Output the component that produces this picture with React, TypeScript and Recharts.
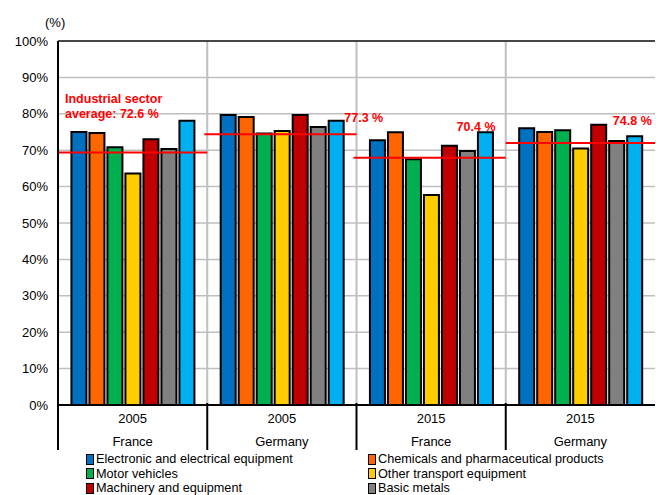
import React from 'react';
import { BarChart, Bar, XAxis, YAxis, CartesianGrid, ReferenceLine } from 'recharts';

const years = ['2005', '2005', '2015', '2015'];
const countries = ['France', 'Germany', 'France', 'Germany'];
const groupCenters = [0.5, 1.5, 2.5, 3.5];

const electronic = [75.0, 79.7, 72.7, 76.0];
const chemicals = [74.7, 79.1, 74.9, 75.0];
const motorVehicles = [70.8, 74.6, 67.5, 75.5];
const otherTransport = [63.6, 75.3, 57.7, 70.5];
const machinery = [73.0, 79.7, 71.2, 77.0];
const basicMetals = [70.3, 76.4, 69.8, 72.5];
const otherIndustries = [78.1, 78.1, 74.9, 73.8];

const seriesNames = [
  'Electronic and electrical equipment',
  'Chemicals and pharmaceutical products',
  'Motor vehicles',
  'Other transport equipment',
  'Machinery and equipment',
  'Basic metals',
  'Other industries',
];
const seriesColors = ['#0070C0', '#FF6600', '#00B050', '#FFCC00', '#C00000', '#808080', '#00B0F0'];
const seriesValues = [electronic, chemicals, motorVehicles, otherTransport, machinery, basicMetals, otherIndustries];
const legendCount = 6;

// average lines (drawn level) and their labels
const averageLevels = [69.4, 74.4, 67.9, 72.0];
const averageSpans = [[0, 1], [0.98, 2], [1.98, 3], [3, 4]];
const averageLabels = [['Industrial sector', 'average: 72.6 %'], ['77.3 %'], ['70.4 %'], ['74.8 %']];
const groupBoundaries = [1, 2, 3];

const yTicks = [0, 10, 20, 30, 40, 50, 60, 70, 80, 90, 100];

const FONT = '"Liberation Sans", Arial, sans-serif';

const data = years.map((y, i) => {
  const row: any = { id: `${countries[i]} ${y}`, pos: groupCenters[i] };
  seriesValues.forEach((vals, s) => {
    row[`s${s}`] = vals[i];
  });
  return row;
});

const labelStyle = [
  { anchor: 'start', dx: 7, dy: [-49, -34] },
  { anchor: 'start', dx: 140, dy: [-12] },
  { anchor: 'end', dx: 142, dy: [-27] },
  { anchor: 'end', dx: 146, dy: [-18] },
];

const AvgLabel = (props: any) => {
  const { viewBox, idx } = props;
  if (!viewBox) return null;
  const st = labelStyle[idx];
  const lines = averageLabels[idx];
  return (
    <g>
      {lines.map((t, k) => (
        <text
          key={k}
          x={viewBox.x + st.dx}
          y={viewBox.y + st.dy[k]}
          textAnchor={st.anchor}
          fill="#FF0000"
          fontWeight="bold"
          fontSize={12.5}
          fontFamily={FONT}
        >
          {t}
        </text>
      ))}
    </g>
  );
};

const XTick = (props: any) => {
  const { x, y, payload, index } = props;
  const half = payload && payload.offset ? payload.offset : 74.6;
  const i = index ?? 0;
  return (
    <g>
      <line x1={x - half} x2={x - half} y1={y - 2} y2={y + 45} stroke="#000" strokeWidth={2} />
      <text x={x} y={y + 18} textAnchor="middle" fontSize={13} fontFamily={FONT} fill="#000">
        {years[i]}
      </text>
      <text x={x} y={y + 41} textAnchor="middle" fontSize={13} fontFamily={FONT} fill="#000">
        {countries[i]}
      </text>
    </g>
  );
};

export default function App() {
  return (
    <div style={{ position: 'absolute', left: 0, top: 0, width: 656, height: 495, overflow: 'hidden', background: '#fff' }}>
      <BarChart
        width={656}
        height={495}
        data={data}
        margin={{ top: 41, right: 1, bottom: 40, left: 0 }}
        barCategoryGap="9%"
        barGap={3}
      >
        <CartesianGrid vertical={false} stroke="#BFBFBF" strokeWidth={1.5} />
        <XAxis
          dataKey="id"
          height={50}
          interval={0}
          tickLine={false}
          tickSize={0}
          tickMargin={0}
          axisLine={{ stroke: '#000', strokeWidth: 2 }}
          tick={<XTick />}
        />
        <XAxis xAxisId="n" dataKey="pos" type="number" domain={[0, 4]} allowDataOverflow hide />
        <YAxis
          width={58}
          domain={[0, 100]}
          ticks={yTicks}
          interval={0}
          tickLine={false}
          tickMargin={4}
          tickFormatter={(v: number) => `${v}%`}
          axisLine={{ stroke: '#000', strokeWidth: 2 }}
          tick={{ fontSize: 13, fill: '#000', fontFamily: FONT }}
        />
        {groupBoundaries.map((v) => (
          <ReferenceLine key={`v${v}`} xAxisId="n" x={v} stroke="#BFBFBF" strokeWidth={2} />
        ))}
        {seriesValues.map((_, s) => (
          <Bar
            key={s}
            dataKey={`s${s}`}
            name={seriesNames[s]}
            fill={seriesColors[s]}
            stroke="#000"
            strokeWidth={2}
            isAnimationActive={false}
          />
        ))}
        <ReferenceLine y={100} stroke="#1a1a1a" strokeWidth={1.5} />
        {averageLevels.map((lv, i) => (
          <ReferenceLine
            key={`a${i}`}
            xAxisId="n"
            segment={[
              { x: averageSpans[i][0], y: lv },
              { x: averageSpans[i][1], y: lv },
            ]}
            stroke="#FF0000"
            strokeWidth={2}
            ifOverflow="visible"
            label={<AvgLabel idx={i} />}
          />
        ))}
      </BarChart>
      <div style={{ position: 'absolute', left: 45, top: 15, fontSize: 13, fontFamily: FONT, color: '#000' }}>(%)</div>
      <div
        style={{
          position: 'absolute',
          left: 86,
          top: 452,
          display: 'grid',
          gridTemplateColumns: '282px 282px',
          gridAutoRows: '14.5px',
          fontSize: 12.7,
          fontFamily: FONT,
          color: '#000',
        }}
      >
        {seriesNames.slice(0, legendCount).map((n, s) => (
          <div key={s} style={{ display: 'flex', alignItems: 'center', whiteSpace: 'nowrap', lineHeight: '14px' }}>
            <span
              style={{
                display: 'inline-block',
                width: 6,
                height: 9,
                background: seriesColors[s],
                border: '1px solid #000',
                marginRight: 2,
              }}
            />
            {n}
          </div>
        ))}
      </div>
    </div>
  );
}
